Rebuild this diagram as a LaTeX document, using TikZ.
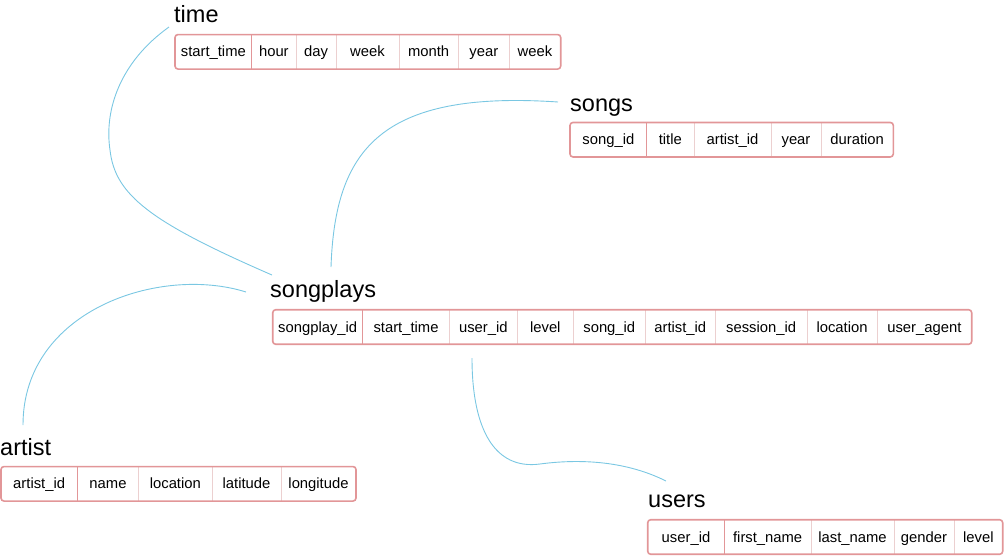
\documentclass[tikz,border=0pt]{standalone}
\usepackage{fontspec}
\setmainfont{Liberation Sans}
\definecolor{tblred}{RGB}{226,150,152}
\definecolor{seppink}{RGB}{236,208,208}
\definecolor{linkblue}{RGB}{122,199,226}
\usetikzlibrary{positioning}

\begin{document}
\begin{tikzpicture}[x=1pt, y=-1pt,
  title/.style={anchor=base west, inner sep=0pt, font=\fontsize{23.5}{28}\selectfont},
  tcell/.style={inner sep=0pt, outer sep=0pt, minimum height=34.5pt, text height=13pt, text depth=3pt, font=\fontsize{14.8}{17}\selectfont},
  tblframe/.style={draw=tblred, line width=1.6pt, rounded corners=3pt},
  keysep/.style={draw=tblred, line width=0.9pt},
  colsep/.style={draw=seppink, line width=0.9pt},
  link/.style={draw=linkblue, line width=0.9pt}]
  \useasboundingbox (0,0) rectangle (1004,555);

  % time
  \node[title] (time) at (174,22.7) {time};
  \coordinate (time-0) at (175,51.8);
  \foreach \w/\t [count=\i, remember=\i as \j (initially 0)] in {76.7/start\_time, 44.3/hour, 40/day, 63/week, 59.3/month, 51/year, 51.4/week}
    \node[tcell, minimum width=\w pt, right=0pt of time-\j] (time-\i) {\t};
  \draw[keysep] (time-1.north east) -- (time-1.south east);
  \foreach \i in {2,...,6} \draw[colsep] (time-\i.north east) -- (time-\i.south east);
  \draw[tblframe] (time-1.north west) rectangle (time-7.south east);

  % songs
  \node[title] (songs) at (570,111.7) {songs};
  \coordinate (songs-0) at (570,139.7);
  \foreach \w/\t [count=\i, remember=\i as \j (initially 0)] in {76.7/song\_id, 47.3/title, 77/artist\_id, 50/year, 72.3/duration}
    \node[tcell, minimum width=\w pt, right=0pt of songs-\j] (songs-\i) {\t};
  \draw[keysep] (songs-1.north east) -- (songs-1.south east);
  \foreach \i in {2,...,4} \draw[colsep] (songs-\i.north east) -- (songs-\i.south east);
  \draw[tblframe] (songs-1.north west) rectangle (songs-5.south east);

  % songplays
  \node[title] (songplays) at (270,297.7) {songplays};
  \coordinate (songplays-0) at (272.7,327);
  \foreach \w/\t [count=\i, remember=\i as \j (initially 0)] in {90/songplay\_id, 86.6/start\_time, 68/user\_id, 56/level, 72/song\_id, 70/artist\_id, 91.7/session\_id, 70/location, 94.7/user\_agent}
    \node[tcell, minimum width=\w pt, right=0pt of songplays-\j] (songplays-\i) {\t};
  \draw[keysep] (songplays-1.north east) -- (songplays-1.south east);
  \foreach \i in {2,...,8} \draw[colsep] (songplays-\i.north east) -- (songplays-\i.south east);
  \draw[tblframe] (songplays-1.north west) rectangle (songplays-9.south east);

  % artist
  \node[title] (artist) at (0,455) {artist};
  \coordinate (artist-0) at (1,483.8);
  \foreach \w/\t [count=\i, remember=\i as \j (initially 0)] in {76.3/artist\_id, 61.4/name, 73.3/location, 69/latitude, 75/longitude}
    \node[tcell, minimum width=\w pt, right=0pt of artist-\j] (artist-\i) {\t};
  \draw[keysep] (artist-1.north east) -- (artist-1.south east);
  \foreach \i in {2,...,4} \draw[colsep] (artist-\i.north east) -- (artist-\i.south east);
  \draw[tblframe] (artist-1.north west) rectangle (artist-5.south east);

  % users
  \node[title] (users) at (648,507.3) {users};
  \coordinate (users-0) at (647.7,537);
  \foreach \w/\t [count=\i, remember=\i as \j (initially 0)] in {76.6/user\_id, 86.7/first\_name, 83/last\_name, 60/gender, 48.7/level}
    \node[tcell, minimum width=\w pt, right=0pt of users-\j] (users-\i) {\t};
  \draw[keysep] (users-1.north east) -- (users-1.south east);
  \foreach \i in {2,...,4} \draw[colsep] (users-\i.north east) -- (users-\i.south east);
  \draw[tblframe] (users-1.north west) rectangle (users-5.south east);

  % links
  \coordinate (time-link) at (169,27);
  \coordinate (songs-link) at (558,102);
  \coordinate (sp-time) at (272,275);
  \coordinate (sp-songs) at (331,267);
  \coordinate (sp-artist) at (246,292);
  \coordinate (sp-users) at (472,358);
  \coordinate (artist-link) at (23,425);
  \coordinate (users-link) at (666,481);
  \draw[link] (time-link) .. controls (120,62) and (104,110) .. (110,150) .. controls (115,195) and (150,222) .. (sp-time);
  \draw[link] (songs-link) .. controls (380,90) and (335,150) .. (sp-songs);
  \draw[link] (sp-artist) .. controls (160,265) and (23,310) .. (artist-link);
  \draw[link] (sp-users) .. controls (472,430) and (495,470) .. (540,464) .. controls (570,460) and (620,458) .. (users-link);
\end{tikzpicture}
\end{document}
